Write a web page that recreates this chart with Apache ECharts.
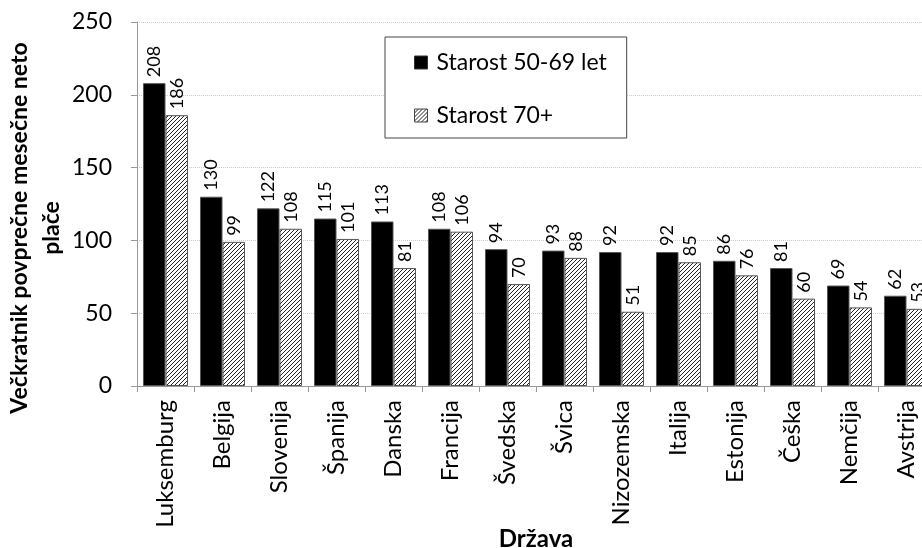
<!DOCTYPE html>
<html lang="sl">
<head>
<meta charset="utf-8">
<title>Večkratnik povprečne mesečne neto plače</title>
<script src="https://cdn.jsdelivr.net/npm/echarts@6/dist/echarts.min.js"></script>
<style>
html,body{margin:0;padding:0;background:#fff;}
#chart{width:922px;height:548px;}
</style>
</head>
<body>
<div id="chart"></div>
<script>
var drzave = ['Luksemburg','Belgija','Slovenija','Španija','Danska','Francija','Švedska','Švica','Nizozemska','Italija','Estonija','Češka','Nemčija','Avstrija'];
var starost5069 = [208,130,122,115,113,108,94,93,92,92,86,81,69,62];
var starost70 = [186,99,108,101,81,106,70,88,51,85,76,60,54,53];
var yTicks = [0,50,100,150,200,250];

// hatch pattern for the 70+ bars
var tile = document.createElement('canvas');
tile.width = 4; tile.height = 4;
var c = tile.getContext('2d');
c.fillStyle = '#fff';
c.fillRect(0,0,4,4);
c.strokeStyle = '#222';
c.lineWidth = 1;
c.beginPath();
c.moveTo(0,4); c.lineTo(4,0);
c.moveTo(-1,1); c.lineTo(1,-1);
c.moveTo(3,5); c.lineTo(5,3);
c.stroke();
var hatch = {image: tile, repeat: 'repeat'};

var font = 'Lato, "Open Sans", sans-serif';
var lbl = {
  show: true, position: 'top', rotate: 90, align: 'left', verticalAlign: 'middle',
  distance: 6, fontSize: 18, color: '#000', fontFamily: font
};

var chart = echarts.init(document.getElementById('chart'));
chart.setOption({
  animation: false,
  textStyle: {fontFamily: font},
  grid: {left: 137, top: 22, bottom: 162, width: 798, outerBoundsMode: 'none', containLabel: false},
  // y axis title, placed by hand (sits lower than the axis middle in the original)
  graphic: [{
    type: 'text', x: 36, y: 228, rotation: Math.PI / 2,
    style: {
      text: 'Večkratnik povprečne mesečne neto\nplače',
      font: 'bold 23px Lato, "Open Sans", sans-serif',
      fill: '#000', align: 'center', verticalAlign: 'middle', lineHeight: 32
    }
  }],
  legend: {
    orient: 'vertical', left: 385, top: 37,
    padding: [14, 20, 11, 29], itemGap: 30,
    borderColor: '#444', borderWidth: 1, backgroundColor: '#fff',
    icon: 'rect', itemWidth: 13, itemHeight: 13,
    textStyle: {fontSize: 23, color: '#000', fontFamily: font, padding: [0, 0, 0, 4]},
    data: [
      {name: 'Starost 50-69 let', itemStyle: {color: '#000', borderColor: '#333', borderWidth: 1}},
      {name: 'Starost 70+', itemStyle: {color: hatch, borderColor: '#444', borderWidth: 1}}
    ]
  },
  xAxis: {
    type: 'category', data: drzave,
    name: 'Država', nameLocation: 'middle', nameGap: 141, nameMoveOverlap: false,
    nameTextStyle: {fontSize: 24, fontWeight: 'bold', color: '#000', fontFamily: font},
    axisLine: {lineStyle: {color: '#999'}},
    axisTick: {show: true, length: 6, lineStyle: {color: '#999'}},
    axisLabel: {rotate: 90, fontSize: 24, color: '#000', margin: 14, fontFamily: font, interval: 0}
  },
  yAxis: {
    type: 'value', min: 0, max: 250, interval: 50,
    axisLine: {show: true, lineStyle: {color: '#999'}},
    axisTick: {show: true, length: 6, lineStyle: {color: '#999'}},
    axisLabel: {fontSize: 23, color: '#000', margin: 25, fontFamily: font,
      formatter: function (v) { return yTicks.indexOf(v) >= 0 ? v : ''; }},
    splitLine: {lineStyle: {color: '#ccc', type: 'dotted'}}
  },
  series: [
    {
      name: 'Starost 50-69 let', type: 'bar', data: starost5069,
      barGap: '0%', barCategoryGap: '21%',
      itemStyle: {color: '#000', borderColor: '#555', borderWidth: 1},
      label: lbl
    },
    {
      name: 'Starost 70+', type: 'bar', data: starost70,
      itemStyle: {color: hatch, borderColor: '#555', borderWidth: 1},
      label: lbl
    }
  ]
});
</script>
</body>
</html>
